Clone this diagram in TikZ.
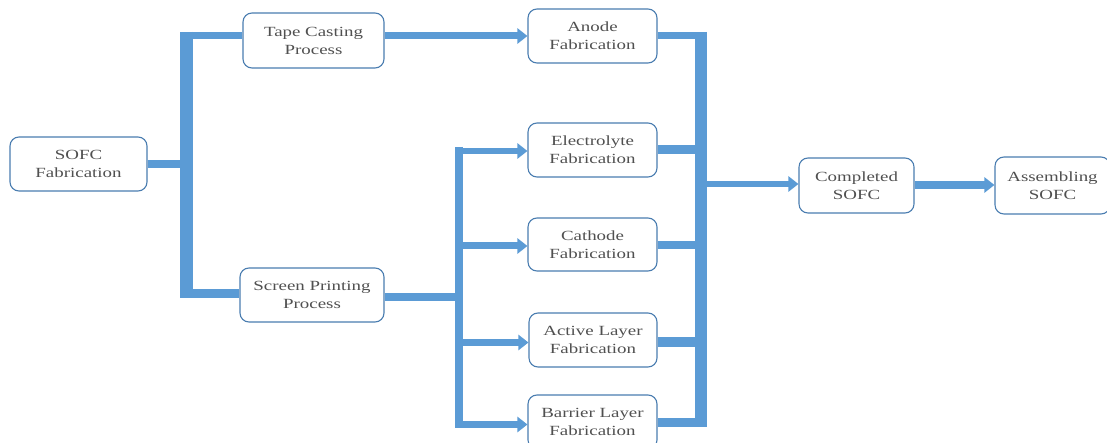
\documentclass[tikz,border=0pt]{standalone}
\usepackage{fontspec}
\setmainfont{Liberation Serif}[FakeStretch=1.35]
\usetikzlibrary{arrows.meta}
\definecolor{flow}{HTML}{5B9BD5}
\definecolor{boxline}{HTML}{4A7DB0}
\definecolor{txt}{HTML}{505050}
\tikzset{
  procbox/.style={draw=boxline, line width=1.1pt, rounded corners=9pt, fill=white,
    text=txt, align=center, font=\fontsize{14}{18}\selectfont, inner sep=0pt},
  flowline/.style={draw=flow, line cap=butt},
  flowarrow/.style={draw=flow, line cap=butt, -{Triangle[length=10pt,width=15pt]}, flow},
}
\begin{document}
\begin{tikzpicture}[x=1pt,y=-1pt]
\useasboundingbox (0,0) rectangle (1107,443);
\clip (0,0) rectangle (1107,443);
% boxes
\node[procbox, minimum width=137pt, minimum height=54pt] (sofc) at (78.5,164) {SOFC\\Fabrication};
\node[procbox, minimum width=141pt, minimum height=55pt] (tape) at (313.5,40.5) {Tape Casting\\Process};
\node[procbox, minimum width=144pt, minimum height=54pt] (screen) at (312,295) {Screen Printing\\Process};
\node[procbox, minimum width=129pt, minimum height=54pt] (anode) at (592.5,36) {Anode\\Fabrication};
\node[procbox, minimum width=129pt, minimum height=54pt] (electro) at (592.5,150) {Electrolyte\\Fabrication};
\node[procbox, minimum width=129pt, minimum height=53pt] (cathode) at (592.5,244.5) {Cathode\\Fabrication};
\node[procbox, minimum width=128pt, minimum height=54pt] (active) at (593,340) {Active Layer\\Fabrication};
\node[procbox, minimum width=129pt, minimum height=54pt] (barrier) at (592.5,422) {Barrier Layer\\Fabrication};
\node[procbox, minimum width=115pt, minimum height=55pt] (completed) at (856.5,185.5) {Completed\\SOFC};
\node[procbox, minimum width=115pt, minimum height=57pt] (assembling) at (1052.5,185.5) {Assembling\\SOFC};
% trunk coordinates
\coordinate (ltTop) at (186.5,32);
\coordinate (ltBot) at (186.5,298);
\coordinate (mtTop) at (459,147);
\coordinate (mtBot) at (459,428);
\coordinate (rtTop) at (701,32);
\coordinate (rtBot) at (701,427);
% left trunk
\draw[flowline, line width=13pt] (ltTop) -- (ltBot);
\draw[flowline, line width=8pt] (sofc.east) -- (sofc.east -| ltTop);
\draw[flowline, line width=7pt] ([xshift=-6.5pt]ltTop |- anode.west) -- (tape.west |- anode.west);
\draw[flowline, line width=9pt] ([xshift=-6.5pt]ltTop |- 0,293.5) -- (screen.west |- 0,293.5);
% tape to anode
\draw[flowarrow, line width=7pt] (tape.east |- anode.west) -- (anode.west);
% middle trunk
\draw[flowline, line width=8pt] (mtTop) -- (mtBot);
\draw[flowline, line width=8pt] (screen.east |- 0,297) -- ([xshift=4pt]mtTop |- 0,297);
\draw[flowarrow, line width=6pt] ([xshift=-4pt]mtTop |- 0,151) -- (electro.west |- 0,151);
\draw[flowarrow, line width=7pt] (mtTop |- 0,246) -- (cathode.west |- 0,246);
\draw[flowarrow, line width=7pt] (mtTop |- 0,342.5) -- (active.west |- 0,342.5);
\draw[flowarrow, line width=7pt] ([xshift=-4pt]mtTop |- 0,424.5) -- (barrier.west |- 0,424.5);
% right trunk
\draw[flowline, line width=12pt] (rtTop) -- (rtBot);
\draw[flowline, line width=7pt] (anode.east |- 0,35.5) -- ([xshift=6pt]rtTop |- 0,35.5);
\draw[flowline, line width=9pt] (electro.east |- 0,149.5) -- (rtTop |- 0,149.5);
\draw[flowline, line width=8pt] (cathode.east |- 0,245) -- (rtTop |- 0,245);
\draw[flowline, line width=10pt] (active.east |- 0,342) -- (rtTop |- 0,342);
\draw[flowline, line width=9pt] (barrier.east |- 0,422.5) -- ([xshift=6pt]rtTop |- 0,422.5);
% to completed and assembling
\draw[flowarrow, line width=6pt] (rtTop |- 0,184) -- (completed.west |- 0,184);
\draw[flowarrow, line width=8pt] (completed.east |- 0,185) -- (assembling.west |- 0,185);
\end{tikzpicture}
\end{document}
